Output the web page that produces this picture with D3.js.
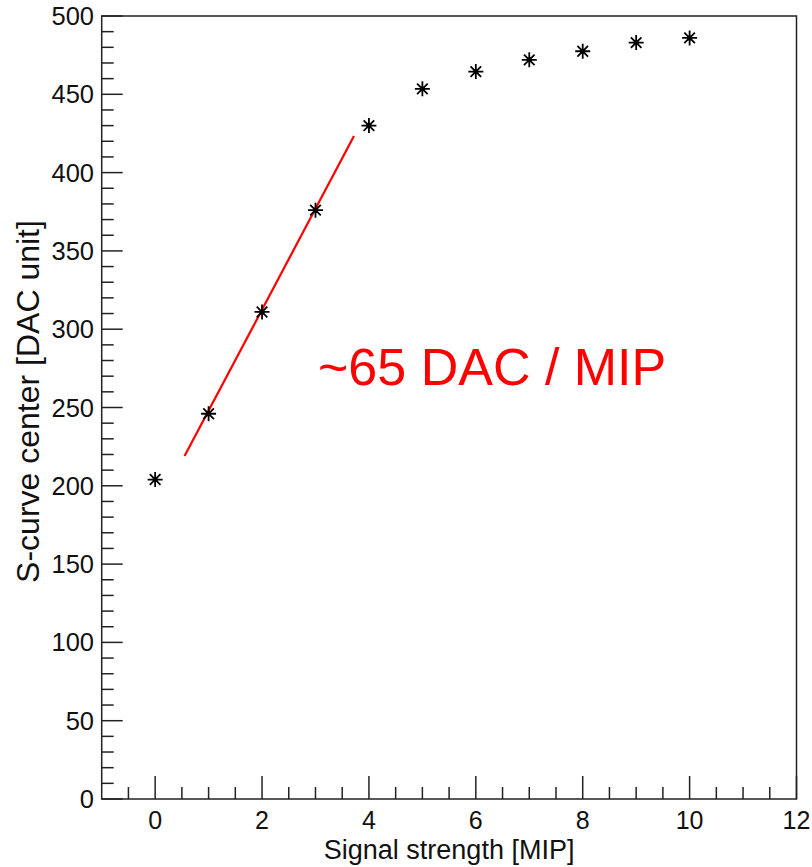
<!DOCTYPE html>
<html>
<head>
<meta charset="utf-8">
<script src="https://cdn.jsdelivr.net/npm/d3@7"></script>
<style>
  html, body { margin: 0; padding: 0; background: #fff; }
  svg { display: block; }
  text { font-family: "Liberation Sans", Arial, Helvetica, sans-serif; }
</style>
</head>
<body>
<svg id="chart" width="812" height="867"></svg>
<script>
// ---- data ----
const signalMIP = [0, 1, 2, 3, 4, 5, 6, 7, 8, 9, 10];
const scurveCenter = [204, 246, 311, 376, 430, 453.5, 464.5, 472, 477.5, 483, 486];
const fitSlope = 64.5;       // DAC / MIP
const fitIntercept = 183.5;  // DAC
const fitRange = [0.55, 3.72];
const xTickValues = [0, 2, 4, 6, 8, 10, 12];
const yTickValues = [0, 50, 100, 150, 200, 250, 300, 350, 400, 450, 500];
const xTitle = "Signal strength [MIP]";
const yTitle = "S-curve center [DAC unit]";
const annotation = "~65 DAC / MIP";

(function () {
// ---- layout ----
const mL = 101.7, mR = 796.5, mT = 16, mB = 799;
const svg = d3.select("#chart");

const x = d3.scaleLinear().domain([-1, 12]).range([mL, mR]);
const y = d3.scaleLinear().domain([0, 500]).range([mB, mT]);

// frame
svg.append("rect")
  .attr("x", mL).attr("y", mT)
  .attr("width", mR - mL).attr("height", mB - mT)
  .attr("fill", "none").attr("stroke", "#222").attr("stroke-width", 1.5);

// x axis ticks (inward)
const xMinor = d3.range(-0.5, 12.001, 0.5).filter(v => Math.abs(v / 2 - Math.round(v / 2)) > 1e-6);
const gx = svg.append("g");
gx.selectAll("line.maj").data(xTickValues).join("line").attr("class", "maj")
  .attr("x1", d => x(d)).attr("x2", d => x(d))
  .attr("y1", mB).attr("y2", mB - 23)
  .attr("stroke", "#222").attr("stroke-width", 1.5);
gx.selectAll("line.min").data(xMinor).join("line").attr("class", "min")
  .attr("x1", d => x(d)).attr("x2", d => x(d))
  .attr("y1", mB).attr("y2", mB - 12)
  .attr("stroke", "#222").attr("stroke-width", 1.5);
gx.selectAll("text").data(xTickValues).join("text")
  .attr("x", d => x(d)).attr("y", 829)
  .attr("text-anchor", "middle").attr("font-size", 25).attr("fill", "#111")
  .text(d => d);

// y axis ticks (inward)
const yMinor = d3.range(0, 500.001, 10).filter(v => v % 50 !== 0);
const gy = svg.append("g");
gy.selectAll("line.maj").data(yTickValues).join("line").attr("class", "maj")
  .attr("x1", mL).attr("x2", mL + 21)
  .attr("y1", d => y(d)).attr("y2", d => y(d))
  .attr("stroke", "#222").attr("stroke-width", 1.5);
gy.selectAll("line.min").data(yMinor).join("line").attr("class", "min")
  .attr("x1", mL).attr("x2", mL + 12)
  .attr("y1", d => y(d)).attr("y2", d => y(d))
  .attr("stroke", "#222").attr("stroke-width", 1.5);
gy.selectAll("text").data(yTickValues).join("text")
  .attr("x", 94).attr("y", d => y(d) + 9)
  .attr("text-anchor", "end").attr("font-size", 25.5).attr("fill", "#111")
  .text(d => d);

// axis titles
svg.append("text")
  .attr("x", (mL + mR) / 2).attr("y", 859)
  .attr("text-anchor", "middle").attr("font-size", 27).attr("fill", "#111")
  .text(xTitle);
svg.append("text")
  .attr("transform", `translate(39,${(mT + mB) / 2 - 6}) rotate(-90)`)
  .attr("text-anchor", "middle").attr("font-size", 32).attr("fill", "#111")
  .text(yTitle);

// fit line
const fitLine = d3.line().x(d => x(d)).y(d => y(fitIntercept + fitSlope * d));
svg.append("path")
  .datum(fitRange)
  .attr("d", fitLine)
  .attr("fill", "none").attr("stroke", "#ff0000").attr("stroke-width", 2.2);

// star markers
const r = 7.5;
const starPath = (cx, cy) => {
  const k = r * Math.SQRT1_2;
  return `M${cx - r},${cy}L${cx + r},${cy}M${cx},${cy - r}L${cx},${cy + r}` +
         `M${cx - k},${cy - k}L${cx + k},${cy + k}M${cx - k},${cy + k}L${cx + k},${cy - k}`;
};
svg.append("g").selectAll("path").data(signalMIP).join("path")
  .attr("d", (d, i) => starPath(x(d), y(scurveCenter[i])))
  .attr("stroke", "#000").attr("stroke-width", 1.8).attr("fill", "none");
svg.append("g").selectAll("circle").data(signalMIP).join("circle")
  .attr("cx", d => x(d)).attr("cy", (d, i) => y(scurveCenter[i]))
  .attr("r", 2.5).attr("fill", "#000");

// annotation
svg.append("text")
  .attr("x", 318).attr("y", 385)
  .attr("font-size", 52).attr("fill", "#ff0000")
  .text(annotation);
})();
</script>
</body>
</html>
